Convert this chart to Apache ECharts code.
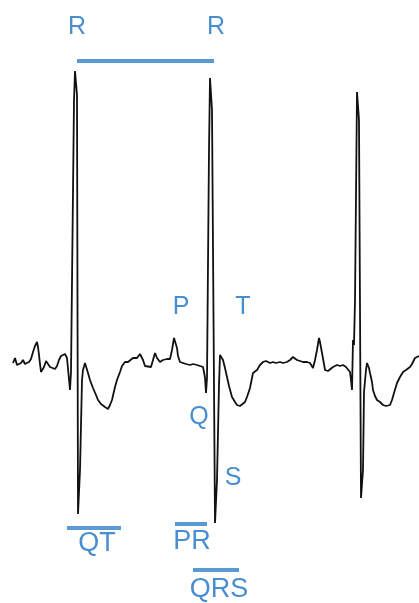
<!DOCTYPE html>
<html>
<head>
<meta charset="utf-8">
<script src="https://cdn.jsdelivr.net/npm/echarts@6/dist/echarts.min.js"></script>
<style>html,body{margin:0;padding:0;background:#fff}#c{width:419px;height:603px}</style>
</head>
<body>
<div id="c"></div>
<script>
// ECG trace: time (arbitrary units) and amplitude relative to baseline (arbitrary units)
var time = [13,15,17,19,21,23,25,27,29,31,33,35,37,38,39,40,41,42,44,46,48,50,52,55,57,59,61,63,65,67,69,
  70,71,74,75,77,78,80,82,83,85,
  88,90,93,96,98,101,105,108,110,112,115,117,120,122,125,128,130,133,135,137,140,143,145,147,151,153,155,157,160,163,167,170,172,174,175,177,178,180,183,186,190,193,197,200,203,204,
  205,206,207,209,210,212,215,217,219,220,221,
  223,225,227,229,232,235,237,240,242,245,247,250,252,253,255,257,260,263,266,268,270,273,276,280,283,287,290,293,295,297,300,303,307,310,312,313,315,317,319,320,322,324,325,328,330,333,337,340,343,346,348,350,
  351,352,353,354,355,357,359,361,363,364,366,367,
  369,370,372,373,375,377,380,383,386,388,390,392,394,397,400,403,406,410,412,415,417,419];
var amplitude = [-3,2,-5,-6,-3,0,-4,-6,-2,1,8,14,18,13,5,-4,-12,-13,-7,-1,-2,-7,-9,-9,-6,0,4,5,6,2,0,
  -30,-12,259,289,265,-154,-110,-20,-10,-3,
  -13,-20,-28,-35,-40,-44,-47,-49,-45,-40,-27,-20,-12,-6,-2,-2,-2,2,0,2,6,0,-6,-7,-7,0,7,2,-2,0,1,1,10,22,23,12,4,-2,-3,-4,-5,-4,-5,-6,-7,-12,
  -18,-33,-18,210,282,250,-163,-120,-25,5,7,
  0,-8,-17,-26,-37,-42,-45,-46,-47,-42,-37,-28,-18,-13,-11,-10,-5,-2,-1,-2,-3,-2,-3,-2,-3,-2,0,3,1,0,-1,-2,-2,-3,-5,-8,0,10,22,18,7,-4,-10,-11,-10,-7,-5,-6,-5,-7,-8,-12,
  -20,-30,20,15,60,268,240,-138,-110,-32,-10,-3,
  -8,-13,-22,-30,-36,-40,-42,-45,-46,-48,-45,-40,-33,-23,-17,-12,-10,-7,-4,2,2,4];

// Wave labels: text, time, amplitude
var labelText = ['R','R','P','T','Q','S','QT','PR','QRS'];
var labelTime = [77,216,181,243,199,233,97,192,219];
var labelAmp  = [333,333,53,53,-57,-118,-184,-182,-230];

// Interval bars: name, start time, end time, amplitude
var barName  = ['RR','QT','PR','QRS'];
var barStart = [77,67,175,193];
var barEnd   = [214,121,207,239];
var barAmp   = [299,-168,-164,-210];

var trace = time.map(function(t,i){return [t, amplitude[i]];});
var series = [{
  type:'line', data:trace, symbol:'none', animation:false,
  lineStyle:{color:'#111', width:1.8}
}];
barName.forEach(function(n,i){
  series.push({type:'line', name:n, symbol:'none', animation:false,
    data:[[barStart[i],barAmp[i]],[barEnd[i],barAmp[i]]],
    lineStyle:{color:'#5b9bd5', width:4}});
});
var bigLabels = {QT:1, PR:1, QRS:1};
series.push({
  type:'scatter', symbolSize:0, animation:false,
  data:labelText.map(function(s,i){
    return {value:[labelTime[i],labelAmp[i]], name:s,
      label:{fontSize: bigLabels[s] ? 27 : 25}};
  }),
  label:{show:true, position:'inside', formatter:'{b}', color:'#1b70c5',
    fontFamily:'Liberation Sans, Arial, sans-serif', fontSize:25}
});

var chart = echarts.init(document.getElementById('c'));
chart.setOption({
  backgroundColor:'#fff',
  grid:{left:0,right:0,top:0,bottom:0},
  xAxis:{type:'value', min:0, max:419, show:false},
  yAxis:{type:'value', min:-243, max:360, show:false},
  series:series
});
</script>
</body>
</html>
